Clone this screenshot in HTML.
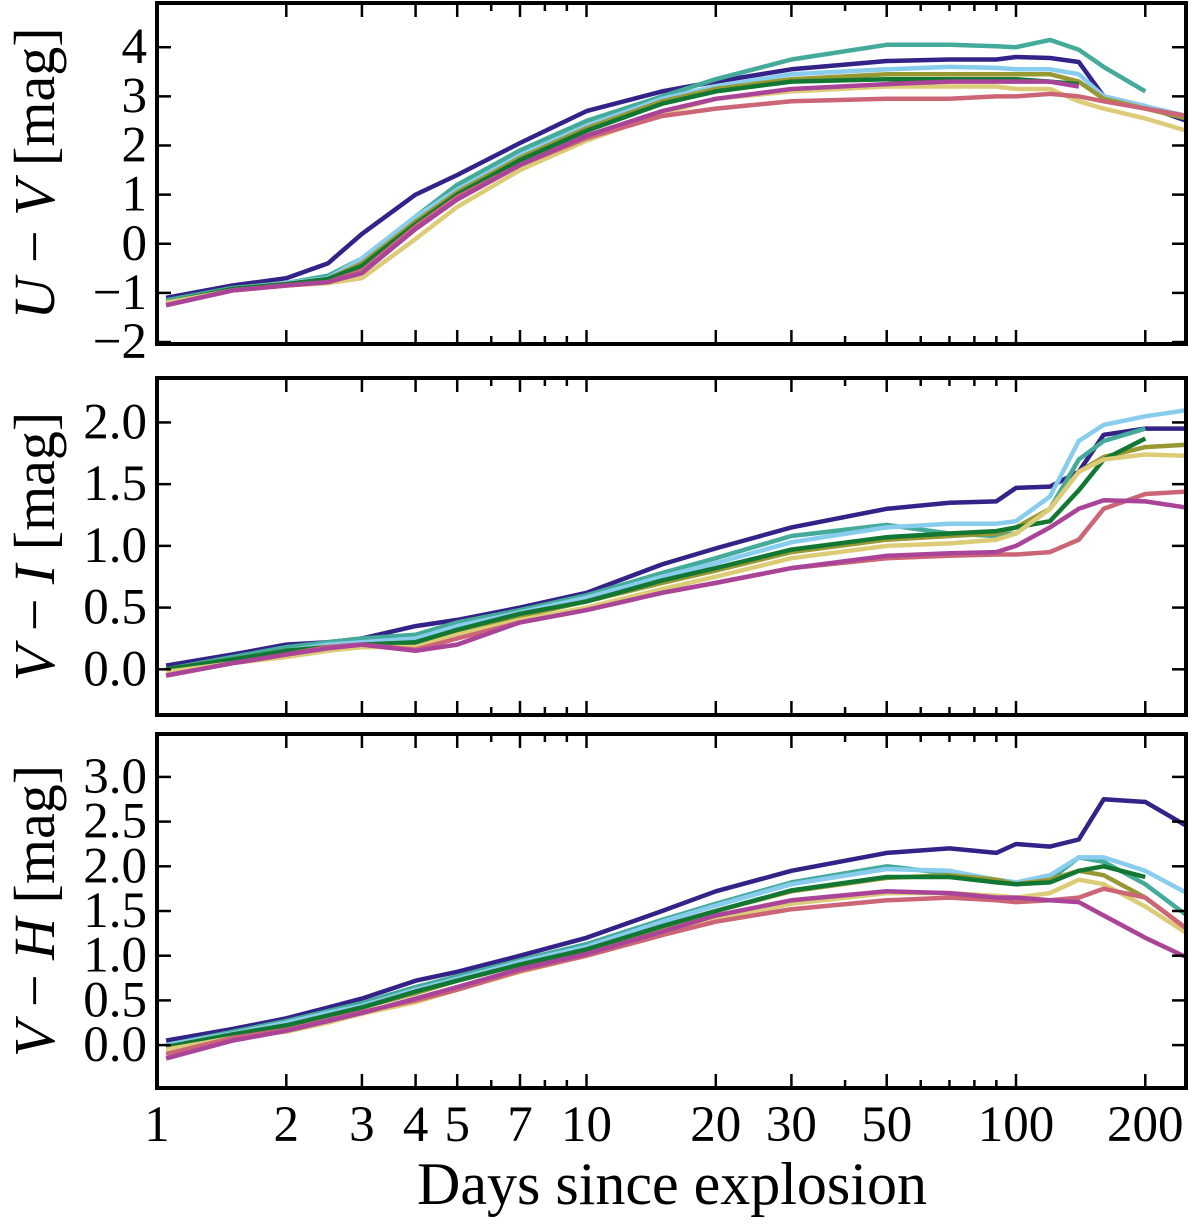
<!DOCTYPE html>
<html><head><meta charset="utf-8"><style>
body{margin:0;background:#fff;}
svg{display:block;}
text{font-family:"Liberation Serif",serif;fill:#000;}
</style></head><body>
<svg id="chart" width="1200" height="1230" viewBox="0 0 1200 1230" xmlns="http://www.w3.org/2000/svg"></svg>
<script>
const days=[1.05,1.5,2,2.5,3,4,5,7,10,15,20,30,50,70,90,100,120,140,160,200,250];
const seriesNames=['model-a','model-b','model-c','model-d','model-e','model-f','model-g','model-h'];
const colors=['#332288','#44AA99','#88CCEE','#999933','#117733','#DDCC77','#CC6677','#AA4499'];
const uvValues=[
[-1.1,-0.85,-0.7,-0.4,0.2,1.0,1.4,2.05,2.7,3.1,3.3,3.55,3.72,3.75,3.75,3.8,3.78,3.7,3.0,2.8,2.5],
[-1.15,-0.9,-0.8,-0.65,-0.3,0.55,1.2,1.9,2.5,3.0,3.35,3.75,4.05,4.05,4.02,4.0,4.15,3.95,3.6,3.1,null],
[-1.2,-0.92,-0.8,-0.7,-0.3,0.55,1.1,1.8,2.4,2.95,3.2,3.45,3.55,3.6,3.58,3.55,3.55,3.45,3.0,2.8,2.6],
[-1.2,-0.92,-0.82,-0.72,-0.4,0.45,1.05,1.75,2.35,2.9,3.15,3.35,3.45,3.45,3.45,3.45,3.45,3.3,2.95,2.75,2.55],
[-1.2,-0.92,-0.82,-0.72,-0.45,0.4,1.0,1.7,2.3,2.85,3.1,3.3,3.35,3.35,3.35,3.35,3.3,3.25,null,null,null],
[-1.2,-0.95,-0.85,-0.8,-0.7,0.1,0.75,1.5,2.1,2.65,2.95,3.1,3.2,3.2,3.2,3.15,3.15,2.9,2.75,2.55,2.3],
[-1.25,-0.95,-0.85,-0.78,-0.55,0.35,0.95,1.6,2.15,2.6,2.75,2.9,2.95,2.95,3.0,3.0,3.05,3.0,2.9,2.75,2.6],
[-1.25,-0.95,-0.85,-0.78,-0.6,0.3,0.9,1.6,2.2,2.7,2.95,3.15,3.25,3.3,3.3,3.3,3.3,3.2,null,null,null]];
const viValues=[
[0.03,0.12,0.2,0.22,0.25,0.35,0.4,0.5,0.62,0.85,0.98,1.15,1.3,1.35,1.36,1.47,1.48,1.6,1.9,1.95,1.95],
[0.0,0.1,0.18,0.22,0.25,0.28,0.38,0.48,0.6,0.78,0.9,1.08,1.17,1.1,1.08,1.1,1.3,1.7,1.85,1.95,null],
[0,0.08,0.15,0.2,0.22,0.25,0.35,0.46,0.58,0.75,0.86,1.03,1.15,1.18,1.18,1.2,1.4,1.85,1.98,2.05,2.1],
[0,0.08,0.15,0.18,0.2,0.2,0.3,0.43,0.55,0.7,0.8,0.95,1.05,1.08,1.1,1.15,1.3,1.6,1.72,1.8,1.82],
[0,0.08,0.15,0.18,0.2,0.22,0.32,0.45,0.55,0.72,0.82,0.97,1.07,1.1,1.12,1.15,1.2,1.45,1.7,1.87,null],
[-0.02,0.05,0.1,0.15,0.18,0.18,0.28,0.4,0.5,0.65,0.75,0.9,1.0,1.02,1.05,1.1,1.3,1.6,1.7,1.74,1.73],
[-0.05,0.05,0.12,0.18,0.2,0.16,0.25,0.38,0.48,0.62,0.7,0.82,0.9,0.92,0.93,0.93,0.95,1.05,1.3,1.42,1.44],
[-0.05,0.05,0.12,0.17,0.2,0.15,0.2,0.38,0.48,0.62,0.7,0.82,0.92,0.94,0.95,1.0,1.15,1.3,1.37,1.36,1.31]];
const vhValues=[
[0.05,0.18,0.3,0.42,0.52,0.72,0.82,1.0,1.2,1.5,1.72,1.95,2.15,2.2,2.15,2.25,2.22,2.3,2.75,2.72,2.45],
[0,0.15,0.27,0.38,0.47,0.65,0.77,0.95,1.13,1.4,1.58,1.82,2.0,1.92,1.85,1.82,1.85,2.1,2.05,1.8,1.45],
[0,0.13,0.25,0.36,0.44,0.62,0.74,0.93,1.1,1.38,1.56,1.8,1.97,1.95,1.85,1.82,1.9,2.1,2.1,1.95,1.7],
[-0.02,0.12,0.22,0.33,0.42,0.58,0.72,0.9,1.07,1.32,1.5,1.72,1.87,1.9,1.85,1.8,1.85,1.95,1.9,1.65,1.3],
[-0.02,0.12,0.22,0.33,0.42,0.6,0.72,0.9,1.07,1.33,1.5,1.73,1.88,1.88,1.82,1.8,1.82,1.95,2.0,1.88,null],
[-0.05,0.08,0.15,0.25,0.35,0.48,0.62,0.82,1.0,1.23,1.4,1.58,1.7,1.7,1.67,1.65,1.7,1.85,1.8,1.55,1.25],
[-0.1,0.08,0.17,0.28,0.37,0.5,0.62,0.83,1.0,1.23,1.38,1.52,1.62,1.65,1.62,1.6,1.62,1.65,1.75,1.65,1.3],
[-0.15,0.05,0.16,0.27,0.36,0.52,0.65,0.85,1.02,1.27,1.45,1.62,1.72,1.7,1.65,1.65,1.62,1.6,1.45,1.2,0.98]];
const xTickLabels=[1,2,3,4,5,7,10,20,30,50,100,200];
const uvTicks=[-2,-1,0,1,2,3,4];
const viTicks=[0.0,0.5,1.0,1.5,2.0];
const vhTicks=[0.0,0.5,1.0,1.5,2.0,2.5,3.0];

const NS='http://www.w3.org/2000/svg';
const svg=document.getElementById('chart');
const X0=157,DEC=429.5,XL=157,XR=1186;
function xs(d){return X0+Math.log10(d)*DEC;}
function mk(tag,attrs,parent){const e=document.createElementNS(NS,tag);for(const k in attrs)e.setAttribute(k,attrs[k]);(parent||svg).appendChild(e);return e;}

const panels=[
 {name:'uv',top:3,bottom:344,vmin:-2.04,vmax:4.9,vals:uvValues,ticks:uvTicks,fmt:v=>v<0?'−'+(-v):String(v),a:'U',b:'V'},
 {name:'vi',top:378,bottom:715,vmin:-0.37,vmax:2.36,vals:viValues,ticks:viTicks,fmt:v=>v.toFixed(1),a:'V',b:'I'},
 {name:'vh',top:734,bottom:1088,vmin:-0.48,vmax:3.48,vals:vhValues,ticks:vhTicks,fmt:v=>v.toFixed(1),a:'V',b:'H'}];

const minor=[];for(let p=0;p<3;p++)for(let m=1;m<10;m++){const d=m*Math.pow(10,p);if(d<=254)minor.push(d);}

panels.forEach(P=>{
 const g=mk('g',{});
 
 
 const ys=v=>P.bottom-(v-P.vmin)/(P.vmax-P.vmin)*(P.bottom-P.top);
 const clipId='clip-'+P.name;
 const cp=mk('clipPath',{id:clipId},g);mk('rect',{x:XL,y:P.top,width:XR-XL,height:P.bottom-P.top},cp);
 const lg=mk('g',{'clip-path':'url(#'+clipId+')'},g);
 P.vals.forEach((arr,i)=>{
  let d='';let pen=false;
  arr.forEach((v,j)=>{if(v===null){pen=false;return;}d+=(pen?'L':'M')+xs(days[j]).toFixed(1)+','+ys(v).toFixed(1);pen=true;});
  const path=mk('path',{d:d,fill:'none',stroke:colors[i],'stroke-width':4.5,'stroke-linejoin':'round'},lg);
  
  
 });
 minor.forEach(d=>{
  const major=xTickLabels.includes(d);const L=major?14:8;const x=xs(d);
  if(x<=XL+1||x>=XR-1)return;
  mk('line',{x1:x,x2:x,y1:P.bottom,y2:P.bottom-L,stroke:'#000','stroke-width':2.5},g);
  mk('line',{x1:x,x2:x,y1:P.top,y2:P.top+L,stroke:'#000','stroke-width':2.5},g);
 });
 P.ticks.forEach(v=>{
  const y=ys(v);
  mk('line',{x1:XL,x2:XL+14,y1:y,y2:y,stroke:'#000','stroke-width':2.5},g);
  mk('line',{x1:XR,x2:XR-14,y1:y,y2:y,stroke:'#000','stroke-width':2.5},g);
  const t=mk('text',{x:147,y:y+16,'text-anchor':'end','font-size':51},g);
  t.textContent=P.fmt(v);
  
  
 });
 mk('rect',{x:XL,y:P.top,width:XR-XL,height:P.bottom-P.top,fill:'none',stroke:'#000','stroke-width':4},g);
 const cy=(P.top+P.bottom)/2;
 const yt=mk('text',{x:0,y:0,'text-anchor':'middle','font-size':58,transform:'translate(54,'+cy+') rotate(-90)'},g);
 yt.innerHTML='<tspan font-style="italic">'+P.a+'</tspan> − <tspan font-style="italic">'+P.b+'</tspan> [mag]';
 
 
});
xTickLabels.forEach(d=>{
 const t=mk('text',{x:xs(d),y:1141,'text-anchor':'middle','font-size':51});
 t.textContent=String(d);
 
 
});
const xt=mk('text',{x:672,y:1204,'text-anchor':'middle','font-size':60});
xt.textContent='Days since explosion';


</script>
</body></html>
